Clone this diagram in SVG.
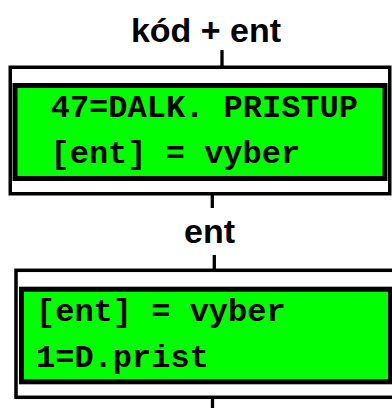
<svg xmlns="http://www.w3.org/2000/svg" width="392" height="408" viewBox="0 0 392 408">
<style>
.outer{fill:#fff;stroke:#000;stroke-width:3.5}
.lcd{fill:#00ff00;stroke:#000;stroke-width:5}
.lbl{font-family:"Liberation Sans",Arial,sans-serif;font-weight:bold;font-size:34px;fill:#000;text-anchor:middle}
.mono{font-family:"Courier New","Nimbus Mono PS","FreeMono","Liberation Mono",monospace;font-weight:bold;font-size:32px;fill:#000}
.conn{stroke:#000;stroke-width:3.3;fill:none}
</style>
<rect width="392" height="408" fill="#fff"/>
<g id="connectors">
<line class="conn" x1="222" y1="50" x2="222" y2="67"/>
<line class="conn" x1="212.3" y1="194" x2="212.3" y2="208"/>
<line class="conn" x1="214.3" y1="255" x2="214.3" y2="270"/>
<line class="conn" x1="212.5" y1="398" x2="212.5" y2="408"/>
</g>
<g id="label1"><text class="lbl" x="206" y="41.5">kód + ent</text></g>
<g id="label2"><text class="lbl" x="209.5" y="243">ent</text></g>
<g id="screen1">
<rect class="outer" x="10.25" y="67.25" width="379.5" height="126.5"/>
<rect class="lcd" x="15" y="85.5" width="370" height="93"/>
<text class="mono" x="50.7" y="116.5">47=DALK. PRISTUP</text>
<text class="mono" x="50.5" y="162.5">[ent] = vyber</text>
</g>
<g id="screen2">
<rect class="outer" x="16" y="270.3" width="400" height="127"/>
<rect class="lcd" x="21.5" y="289.2" width="369" height="92.6"/>
<text class="mono" x="36" y="320.5">[ent] = vyber</text>
<text class="mono" x="36" y="366.5">1=D.prist</text>
</g>
</svg>
